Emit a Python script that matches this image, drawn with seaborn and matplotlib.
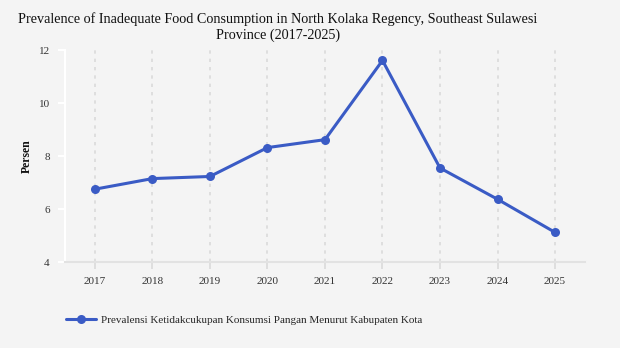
import matplotlib
matplotlib.use("Agg")
import matplotlib.pyplot as plt
import seaborn as sns
import pandas as pd

years = [2017, 2018, 2019, 2020, 2021, 2022, 2023, 2024, 2025]
values = [6.75, 7.15, 7.23, 8.32, 8.62, 11.61, 7.55, 6.37, 5.12]
series_name = "Prevalensi Ketidakcukupan Konsumsi Pangan Menurut Kabupaten Kota"
y_ticks = [4, 6, 8, 10, 12]
title = ("Prevalence of Inadequate Food Consumption in North Kolaka Regency, Southeast Sulawesi\n"
         "Province (2017-2025)")

bg = "#f4f4f4"
line_color = "#3a5bc5"

sns.set_theme(style="white")
plt.rcParams["font.family"] = ["Liberation Serif", "DejaVu Serif"]

df = pd.DataFrame({"Tahun": years, "Persen": values, "Seri": series_name})

fig = plt.figure(figsize=(6.2, 3.48), dpi=100, facecolor=bg)
ax = fig.add_axes([0.1048, 0.247, 0.8387, 0.609])
ax.set_facecolor(bg)

sns.lineplot(data=df, x="Tahun", y="Persen", hue="Seri", palette=[line_color],
             marker="o", markersize=6.5, markeredgewidth=0, linewidth=2.2, ax=ax)

ax.set_xlim(2016.48, 2025.52)
ax.set_ylim(4, 12)
ax.set_xticks(years)
ax.set_xticklabels([str(y) for y in years])
ax.set_yticks(y_ticks)

ax.grid(False)
for y in years:
    ax.axvline(y, color="#dadada", linestyle=(0, (2, 3)), linewidth=1.2, zorder=0)

for s in ["top", "right"]:
    ax.spines[s].set_visible(False)
ax.spines["left"].set_color("white")
ax.spines["left"].set_linewidth(1.5)
ax.spines["bottom"].set_color("#e2e2e2")
ax.spines["bottom"].set_linewidth(1.5)

ax.tick_params(axis="y", length=5, width=1.5, color="white", labelsize=8,
               labelcolor="#333333", pad=6, left=True)
ax.tick_params(axis="x", length=5, width=1.2, color="#dadada", labelsize=8,
               labelcolor="#333333", pad=6, bottom=True)

ax.set_xlabel("")
ax.set_ylabel("Persen", fontsize=8.5, fontweight="bold", labelpad=4, color="#111111")

handles, labels = ax.get_legend_handles_labels()
ax.legend(handles, labels, loc="upper left", bbox_to_anchor=(-0.018, -0.205),
          frameon=False, fontsize=8, handlelength=2.7, handletextpad=0.5)

fig.text(0.448, 0.965, title, ha="center", va="top", fontsize=10.2,
         color="#111111", linespacing=1.25, multialignment="center")

fig.savefig("out.png", dpi=100, facecolor=bg)
